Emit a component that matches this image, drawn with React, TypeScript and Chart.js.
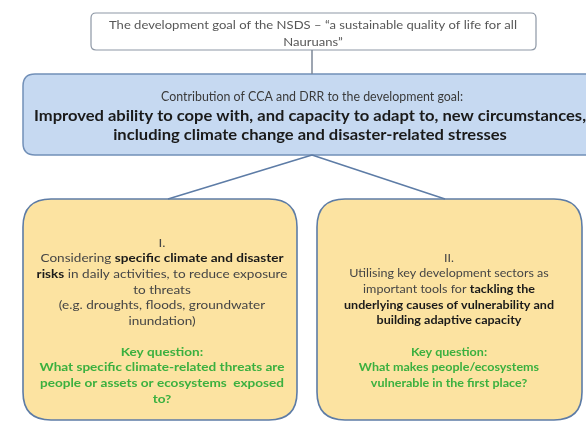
import React, { useEffect, useRef } from "react";
import { Chart, registerables } from "chart.js";

Chart.register(...registerables);

// ---------- Text content (data) ----------
type Seg = [string, boolean]; // [text, bold]

const goalLines: Seg[][] = [
  [["The development goal of the NSDS – “a sustainable quality of life for all", false]],
  [["Nauruans”", false]],
];

const contributionHeading: Seg[] = [["Contribution of CCA and DRR to the development goal:", false]];
const contributionLines: Seg[][] = [
  [["Improved ability to cope with, and capacity to adapt to, new circumstances,", true]],
  [["including climate change and disaster-related stresses", true]],
];

const pillarOneLines: Seg[][] = [
  [["I.", false]],
  [["Considering ", false], ["specific climate and disaster", true]],
  [["risks", true], [" in daily activities, to reduce exposure", false]],
  [["to threats", false]],
  [["(e.g. droughts, floods, groundwater", false]],
  [["inundation)", false]],
];

const pillarOneQuestion: string[] = [
  "Key question:",
  "What specific climate-related threats are",
  "people or assets or ecosystems  exposed",
  "to?",
];

const pillarTwoLines: Seg[][] = [
  [["II.", false]],
  [["Utilising key development sectors as", false]],
  [["important tools for ", false], ["tackling the", true]],
  [["underlying causes of vulnerability and", true]],
  [["building adaptive capacity", true]],
];

const pillarTwoQuestion: string[] = [
  "Key question:",
  "What makes people/ecosystems",
  "vulnerable in the first place?",
];

// ---------- Layout (positions / styles, in scale units) ----------
const W = 586;
const H = 425;
const FAMILY = 'Lato, "Open Sans", "DejaVu Sans", sans-serif';

const BOX = {
  goal: { x0: 91, x1: 536, y0: 13, y1: 50, r: 5, fill: "#ffffff", stroke: "#8d97a5", lw: 1.2 },
  contrib: { x0: 23, x1: 602, y0: 74, y1: 155, r: 12, fill: "#c6d9f1", stroke: "#7290b8", lw: 1.5 },
  p1: { x0: 23, x1: 297, y0: 199, y1: 420, r: 28, fill: "#fce3a1", stroke: "#5d7ca6", lw: 1.6 },
  p2: { x0: 317, x1: 582, y0: 199, y1: 420, r: 28, fill: "#fce3a1", stroke: "#5d7ca6", lw: 1.6 },
};

const LINKS = [
  { from: { x: 312, y: BOX.goal.y1 }, to: { x: 312, y: BOX.contrib.y0 }, color: "#7d8898" },
  { from: { x: 312, y: BOX.contrib.y1 }, to: { x: 168, y: BOX.p1.y0 }, color: "#5d7ca6" },
  { from: { x: 312, y: BOX.contrib.y1 }, to: { x: 445, y: BOX.p2.y0 }, color: "#5d7ca6" },
];

const TEXT_GRAY = "#454545";
const TEXT_BOLD = "#1a1a1a";
const GREEN = "#3bb03f";
const LINE_STEP = 15.6;

function roundRect(ctx: CanvasRenderingContext2D, x: number, y: number, w: number, h: number, r: number) {
  ctx.beginPath();
  ctx.moveTo(x + r, y);
  ctx.lineTo(x + w - r, y);
  ctx.quadraticCurveTo(x + w, y, x + w, y + r);
  ctx.lineTo(x + w, y + h - r);
  ctx.quadraticCurveTo(x + w, y + h, x + w - r, y + h);
  ctx.lineTo(x + r, y + h);
  ctx.quadraticCurveTo(x, y + h, x, y + h - r);
  ctx.lineTo(x, y + r);
  ctx.quadraticCurveTo(x, y, x + r, y);
  ctx.closePath();
}

function measure(ctx: CanvasRenderingContext2D, segs: Seg[], size: number): number[] {
  return segs.map(([t, b]) => {
    ctx.font = `${b ? "bold " : ""}${size}px ${FAMILY}`;
    return ctx.measureText(t).width;
  });
}

function drawLine(
  ctx: CanvasRenderingContext2D,
  segs: Seg[],
  cx: number,
  y: number,
  size: number,
  color: string,
  boldColor: string,
  sx: number
) {
  const widths = measure(ctx, segs, size);
  const total = widths.reduce((a, b) => a + b, 0);
  ctx.save();
  ctx.translate(cx, y);
  ctx.scale(sx, 1);
  ctx.textBaseline = "middle";
  ctx.textAlign = "left";
  let x = -total / 2;
  segs.forEach(([t, b], i) => {
    ctx.font = `${b ? "bold " : ""}${size}px ${FAMILY}`;
    ctx.fillStyle = b ? boldColor : color;
    ctx.fillText(t, x, 0);
    x += widths[i];
  });
  ctx.restore();
}

// horizontal squeeze so a reference line reaches a target width (mimics the narrow original face)
function fitScale(ctx: CanvasRenderingContext2D, segs: Seg[], size: number, target: number) {
  const w = measure(ctx, segs, size).reduce((a, b) => a + b, 0);
  return target / w;
}

const diagramPlugin = {
  id: "diagram",
  beforeDatasetsDraw(chart: any) {
    const { ctx, scales } = chart;
    const sx = scales.x;
    const sy = scales.y;
    ctx.save();
    Object.values(BOX).forEach((b: any) => {
      const x0 = sx.getPixelForValue(b.x0);
      const x1 = sx.getPixelForValue(b.x1);
      const y0 = sy.getPixelForValue(b.y0);
      const y1 = sy.getPixelForValue(b.y1);
      roundRect(ctx, x0, y0, x1 - x0, y1 - y0, b.r);
      ctx.fillStyle = b.fill;
      ctx.fill();
      ctx.lineWidth = b.lw;
      ctx.strokeStyle = b.stroke;
      ctx.stroke();
    });
    ctx.restore();
  },
  afterDatasetsDraw(chart: any) {
    const { ctx, scales } = chart;
    const px = (v: number) => scales.x.getPixelForValue(v);
    const py = (v: number) => scales.y.getPixelForValue(v);
    const wx = (v: number) => scales.x.getPixelForValue(v) - scales.x.getPixelForValue(0);
    ctx.save();

    // goal box
    const gs = fitScale(ctx, goalLines[0], 11.5, wx(408));
    goalLines.forEach((l, i) => drawLine(ctx, l, px(313), py(25 + i * 17), 11.5, "#575757", "#575757", gs));

    // contribution box
    const hs = fitScale(ctx, contributionHeading, 12.5, wx(302));
    drawLine(ctx, contributionHeading, px(312), py(97), 12.5, "#3a3a3a", TEXT_BOLD, hs);
    const cs = fitScale(ctx, contributionLines[0], 15, wx(552));
    contributionLines.forEach((l, i) =>
      drawLine(ctx, l, px(310), py(116 + i * 19), 15, TEXT_BOLD, TEXT_BOLD, cs)
    );

    // pillar I
    const c1 = 162;
    const s1 = fitScale(ctx, pillarOneLines[1], 12, wx(243));
    pillarOneLines.forEach((l, i) =>
      drawLine(ctx, l, px(c1), py(243 + i * LINE_STEP), 12, TEXT_GRAY, TEXT_BOLD, s1)
    );
    pillarOneQuestion.forEach((t, i) =>
      drawLine(ctx, [[t, true]], px(c1), py(352 + i * LINE_STEP), 12, GREEN, GREEN, s1)
    );

    // pillar II
    const c2 = 449;
    const s2 = fitScale(ctx, pillarTwoLines[3], 12, wx(210));
    pillarTwoLines.forEach((l, i) =>
      drawLine(ctx, l, px(c2), py(258 + i * LINE_STEP), 12, TEXT_GRAY, TEXT_BOLD, s2)
    );
    pillarTwoQuestion.forEach((t, i) =>
      drawLine(ctx, [[t, true]], px(c2), py(352 + i * LINE_STEP), 12, GREEN, GREEN, s2)
    );

    ctx.restore();
  },
};

export default function App() {
  const ref = useRef<HTMLCanvasElement | null>(null);

  useEffect(() => {
    if (!ref.current) return;
    const chart = new Chart(ref.current, {
      type: "scatter",
      data: {
        datasets: LINKS.map((l) => ({
          data: [l.from, l.to],
          showLine: true,
          borderColor: l.color,
          borderWidth: 1.5,
          pointRadius: 0,
          fill: false,
        })),
      },
      options: {
        responsive: true,
        maintainAspectRatio: false,
        animation: false,
        events: [],
        layout: { padding: 0 },
        plugins: { legend: { display: false }, tooltip: { enabled: false } },
        scales: {
          x: { type: "linear", min: 0, max: W, display: false },
          y: { type: "linear", min: 0, max: H, reverse: true, display: false },
        },
      },
      plugins: [diagramPlugin],
    } as any);
    return () => chart.destroy();
  }, []);

  return (
    <div style={{ position: "absolute", left: 0, top: 0, width: W, height: H, background: "#ffffff" }}>
      <canvas ref={ref} />
    </div>
  );
}
